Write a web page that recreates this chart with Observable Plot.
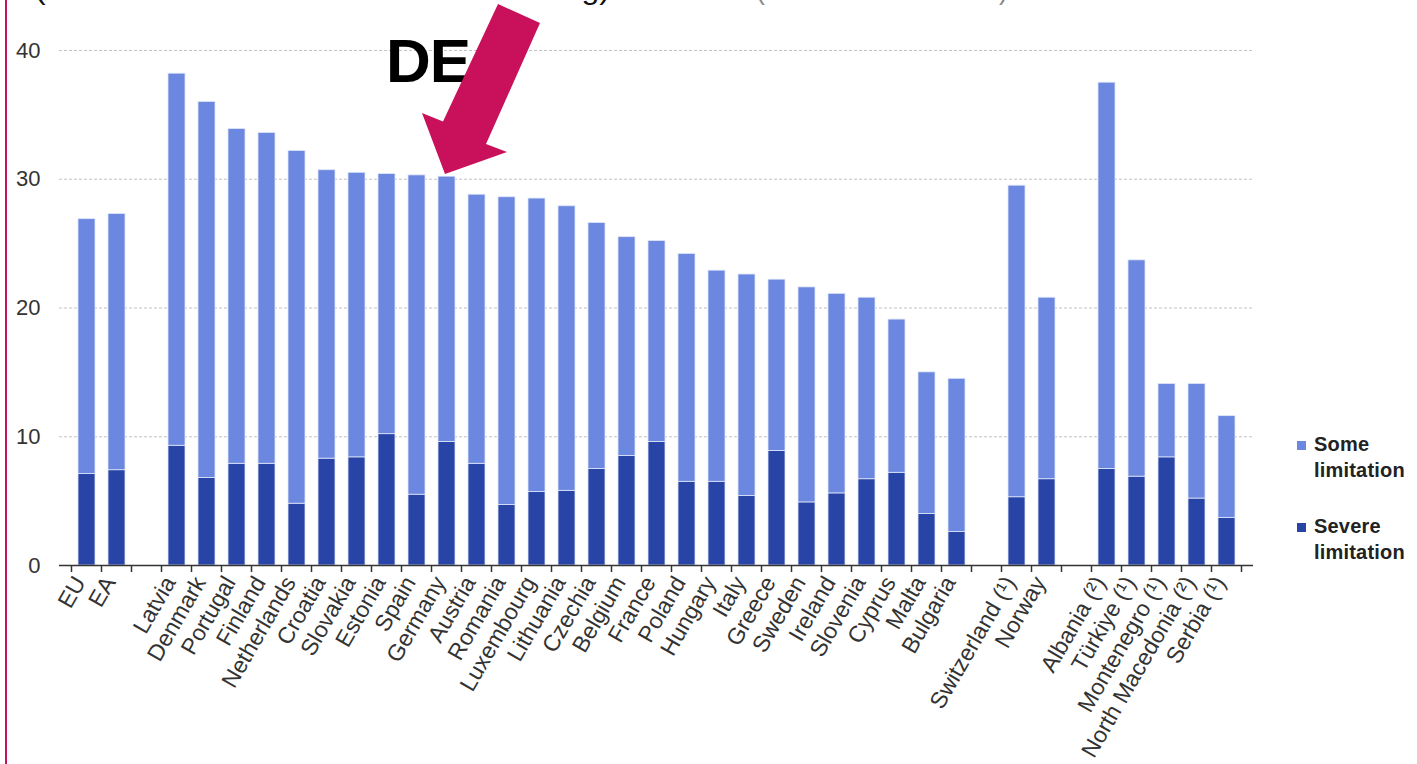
<!DOCTYPE html>
<html>
<head>
<meta charset="utf-8">
<script src="https://cdn.jsdelivr.net/npm/d3@7"></script>
<script src="https://cdn.jsdelivr.net/npm/@observablehq/plot@0.6"></script>
<style>
  html, body { margin: 0; padding: 0; background: #fff; }
  #wrap { position: relative; width: 1417px; height: 764px; overflow: hidden; font-family: "Liberation Sans", Arial, sans-serif; }
  #chart { position: absolute; left: 0; top: 0; }
  #border { position: absolute; left: 5px; top: 0; width: 2px; height: 764px; background: #C8115A; }
  #overlay { position: absolute; left: 0; top: 0; pointer-events: none; }
  .legend { position: absolute; left: 1297px; font-weight: bold; font-size: 20px; line-height: 26px; color: #222; letter-spacing: 0.2px; }
  .legend .sw { position: absolute; left: 0; width: 9px; height: 9px; }
  .legend .tx { position: absolute; left: 17px; white-space: nowrap; }
</style>
</head>
<body>
<div id="wrap">
  <div id="chart"></div>
  <div id="border"></div>
  <svg id="overlay" width="1417" height="764"></svg>
  <div id="legend"></div>
</div>
<script>
// ---- data ----
const aggregates = ["EU", "EA"];
const euCountries = ["Latvia","Denmark","Portugal","Finland","Netherlands","Croatia","Slovakia","Estonia","Spain","Germany","Austria","Romania","Luxembourg","Lithuania","Czechia","Belgium","France","Poland","Hungary","Italy","Greece","Sweden","Ireland","Slovenia","Cyprus","Malta","Bulgaria"];
const eftaCountries = ["Switzerland (¹)", "Norway"];
const candidateCountries = ["Albania (²)", "Türkiye (¹)", "Montenegro (¹)", "North Macedonia (²)", "Serbia (¹)"];

const aggregatesTotal = [26.9, 27.3];
const aggregatesSevere = [7.1, 7.4];
const euTotal  = [38.2, 36.0, 33.9, 33.6, 32.2, 30.7, 30.5, 30.4, 30.3, 30.2, 28.8, 28.6, 28.5, 27.9, 26.6, 25.5, 25.2, 24.2, 22.9, 22.6, 22.2, 21.6, 21.1, 20.8, 19.1, 15.0, 14.5];
const euSevere = [9.3, 6.8, 7.9, 7.9, 4.8, 8.3, 8.4, 10.2, 5.5, 9.6, 7.9, 4.7, 5.7, 5.8, 7.5, 8.5, 9.6, 6.5, 6.5, 5.4, 8.9, 4.9, 5.6, 6.7, 7.2, 4.0, 2.6];
const eftaTotal = [29.5, 20.8];
const eftaSevere = [5.3, 6.7];
const candidateTotal = [37.5, 23.7, 14.1, 14.1, 11.6];
const candidateSevere = [7.5, 6.9, 8.4, 5.2, 3.7];

const yTicks = [0, 10, 20, 30, 40];
const seriesNames = ["Some limitation", "Severe limitation"];
const colors = ["#6B87DF", "#2744A6"];

// empty slots separating the groups
const gaps = [" ", "  ", "   "];
const xDomain = [...aggregates, gaps[0], ...euCountries, gaps[1], ...eftaCountries, gaps[2], ...candidateCountries];

const names = [...aggregates, ...euCountries, ...eftaCountries, ...candidateCountries];
const totals = [...aggregatesTotal, ...euTotal, ...eftaTotal, ...candidateTotal];
const severes = [...aggregatesSevere, ...euSevere, ...eftaSevere, ...candidateSevere];
const rows = names.map((c, i) => ({c, total: totals[i], severe: severes[i]}));

// tick marks on the boundaries between slots, from the band scale
function boundaryTicks(index, scales, values, dim) {
  const x = scales.x;
  const dom = x.domain();
  const bw = x.bandwidth();
  const step = x.step();
  const off = (step - bw) / 2;
  const y0 = dim.height - dim.marginBottom;
  const xs = dom.map(d => x(d) - off).concat([x(dom[dom.length - 1]) + bw + off]);
  const g = d3.create("svg:g").attr("stroke", "#333").attr("stroke-width", 1.5);
  g.selectAll("line").data(xs).join("line")
    .attr("x1", d => d).attr("x2", d => d)
    .attr("y1", y0).attr("y2", y0 + 7);
  return g.node();
}

const chart = Plot.plot({
  width: 1260,
  height: 764,
  marginLeft: 59,
  marginRight: 7,
  marginTop: 50,
  marginBottom: 199,
  style: {fontFamily: "'Liberation Sans', Arial, sans-serif", fontSize: "21px", color: "#333", background: "transparent"},
  x: {type: "band", domain: xDomain, paddingInner: 0.44, paddingOuter: 0.22},
  y: {domain: [0, 40]},
  marks: [
    Plot.ruleY(yTicks.filter(v => v > 0), {stroke: "#c4c4c4", strokeWidth: 1.2, strokeDasharray: "3,2"}),
    Plot.barY(rows, {x: "c", y1: 0, y2: "severe", fill: colors[1], stroke: "#dfe6f8", strokeWidth: 0.8}),
    Plot.barY(rows, {x: "c", y1: "severe", y2: "total", fill: colors[0], stroke: "#dfe6f8", strokeWidth: 0.8}),
    Plot.ruleY([0], {stroke: "#333", strokeWidth: 1.5}),
    boundaryTicks,
    Plot.axisY({ticks: yTicks, tickSize: 0, tickPadding: 19, label: null, fontSize: 22}),
    Plot.axisX({tickSize: 0, tickPadding: 13, tickRotate: -60, dx: -7, label: null, fontSize: 23})
  ]
});
document.getElementById("chart").appendChild(chart);

// legend
const legend = document.getElementById("legend");
const legendTops = [437, 519];
const legendOrder = [0, 1];
legendOrder.forEach((k, i) => {
  const d = document.createElement("div");
  d.className = "legend";
  d.style.top = (legendTops[i] - 6) + "px";
  const [w1, w2] = seriesNames[k].split(" ");
  d.innerHTML = `<div class="sw" style="top:10px;background:${colors[k]}"></div><div class="tx" style="top:0">${w1}<br>${w2}</div>`;
  legend.appendChild(d);
});

// annotations: cut-off title line, "DE" label and arrow
const ov = d3.select("#overlay");
ov.append("text").attr("x", 35).attr("y", -1)
  .attr("font-family", "'Liberation Sans', Arial, sans-serif").attr("font-size", 30)
  .attr("fill", "#111").attr("textLength", 575).attr("lengthAdjust", "spacingAndGlyphs")
  .text("(limitation in usual activities – self-rating)");
ov.append("text").attr("x", 756).attr("y", -1)
  .attr("font-family", "'Liberation Sans', Arial, sans-serif").attr("font-size", 28)
  .attr("fill", "#888").attr("textLength", 252).attr("lengthAdjust", "spacingAndGlyphs")
  .text("(% of adult residents)");
ov.append("text").attr("x", 386).attr("y", 82)
  .attr("font-family", "'Liberation Sans', Arial, sans-serif").attr("font-size", 62)
  .attr("font-weight", "bold").attr("fill", "#000").attr("letter-spacing", -1)
  .text("DE");
ov.append("polygon")
  .attr("points", [[498,4],[540,23],[486,144],[507,152],[445,174],[422,113],[443,121.5]].map(p => p.join(",")).join(" "))
  .attr("fill", "#C8115A");
</script>
</body>
</html>
